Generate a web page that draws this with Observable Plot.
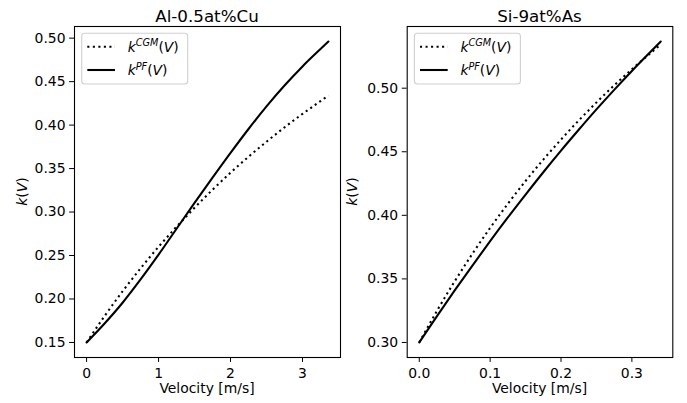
<!DOCTYPE html>
<html><head><meta charset="utf-8">
<script src="https://cdn.jsdelivr.net/npm/d3@7"></script>
<script src="https://cdn.jsdelivr.net/npm/@observablehq/plot@0.6"></script>
<style>
body{margin:0;background:#fff;}
#wrap{position:relative;width:687px;height:403px;font-family:"DejaVu Sans",sans-serif;background:#fff;}
#wrap svg{position:absolute;top:0;}
</style></head><body><div id="wrap"></div>
<script>
// ---- Data ----
const titles = ["Al-0.5at%Cu", "Si-9at%As"];
const xLabel = "Velocity [m/s]";

// Panel A: Al-0.5at%Cu
const alV   = [0, 0.25, 0.5, 0.75, 1.0, 1.25, 1.5, 1.75, 2.0, 2.25, 2.5, 2.75, 3.0, 3.25, 3.36];
const alCGM = [0.150, 0.1804, 0.2088, 0.2352, 0.2600, 0.2831, 0.3049, 0.3256, 0.3452, 0.3636, 0.3809, 0.3974, 0.4129, 0.4276, 0.4340];
const alPF  = [0.150, 0.1718, 0.1957, 0.2225, 0.2510, 0.2808, 0.3105, 0.3395, 0.3680, 0.3955, 0.4215, 0.4455, 0.4675, 0.4875, 0.4961];
const alXTicks = [0, 1, 2, 3];
const alYTicks = [0.15, 0.20, 0.25, 0.30, 0.35, 0.40, 0.45, 0.50];

// Panel B: Si-9at%As
const siV   = [0, 0.025, 0.05, 0.075, 0.1, 0.125, 0.15, 0.175, 0.2, 0.225, 0.25, 0.275, 0.3, 0.325, 0.3407];
const siCGM = [0.300, 0.3249, 0.3481, 0.3698, 0.3901, 0.4091, 0.4270, 0.4438, 0.4596, 0.4746, 0.4888, 0.5022, 0.5149, 0.5270, 0.5343];
const siPF  = [0.300, 0.3207, 0.3409, 0.3605, 0.3797, 0.3983, 0.4163, 0.4339, 0.4509, 0.4673, 0.4833, 0.4987, 0.5136, 0.5279, 0.5367];
const siXTicks = [0.0, 0.1, 0.2, 0.3];
const siYTicks = [0.30, 0.35, 0.40, 0.45, 0.50];

const FS = 13.9;      // 10pt @ 100dpi
const LW = 2.08;      // 1.5pt line
const DOT = "2.08,3.44";
const wrap = document.getElementById("wrap");

function padDomain(vals, f = 0.05) {
  const [a, b] = d3.extent(vals);
  const m = (b - a) * f;
  return [a - m, b + m];
}

function panel({V, cgm, pf, left, width, ml, mr, xticks, yticks, xfmt, yfmt}) {
  const rows = (ys) => V.map((v, i) => ({V: v, k: ys[i]}));
  const p = Plot.plot({
    width, height: 403,
    marginLeft: ml, marginRight: mr, marginTop: 26, marginBottom: 46,
    style: {fontFamily: "DejaVu Sans, sans-serif", fontSize: FS + "px", color: "#000", background: "transparent"},
    x: {domain: padDomain(V), label: null},
    y: {domain: padDomain(cgm.concat(pf)), label: null},
    marks: [
      Plot.line(rows(cgm), {x: "V", y: "k", curve: "monotone-x", stroke: "#000", strokeWidth: LW, strokeDasharray: DOT, strokeLinecap: "butt"}),
      Plot.line(rows(pf), {x: "V", y: "k", curve: "monotone-x", stroke: "#000", strokeWidth: LW}),
      Plot.frame({stroke: "#000", strokeWidth: 1.1}),
      Plot.axisX({ticks: xticks, tickFormat: d3.format(xfmt), tickSize: 4.9, tickPadding: 5.5, label: null, fontSize: FS}),
      Plot.axisY({ticks: yticks, tickFormat: d3.format(yfmt), tickSize: 4.9, tickPadding: 4.1, label: null, fontSize: FS})
    ]
  });
  p.style.left = left + "px";
  wrap.appendChild(p);
}

panel({V: alV, cgm: alCGM, pf: alPF, left: 0, width: 345, ml: 74, mr: 5, xticks: alXTicks, yticks: alYTicks, xfmt: "d", yfmt: ".2f"});
panel({V: siV, cgm: siCGM, pf: siPF, left: 345, width: 342, ml: 61.7, mr: 14.7, xticks: siXTicks, yticks: siYTicks, xfmt: ".1f", yfmt: ".2f"});

// ---- Overlay: titles, axis labels, legends ----
const ov = d3.select(wrap).append("svg")
  .attr("width", 687).attr("height", 403)
  .style("left", "0px").style("pointer-events", "none")
  .attr("font-family", "DejaVu Sans, sans-serif");

const centers = [207, 539.5];
const frameLeft = [74, 406.7];
titles.forEach((t, i) => {
  ov.append("text").attr("x", centers[i]).attr("y", 21.5).attr("text-anchor", "middle")
    .attr("font-size", 16.7).text(t);
  ov.append("text").attr("x", centers[i]).attr("y", 393.3).attr("text-anchor", "middle")
    .attr("font-size", FS).text(xLabel);
  const yl = ov.append("text")
    .attr("transform", `translate(${i === 0 ? 26.5 : 356.5},191.5) rotate(-90)`)
    .attr("text-anchor", "middle").attr("font-size", FS);
  yl.append("tspan").attr("font-style", "italic").text("k");
  yl.append("tspan").text("(");
  yl.append("tspan").attr("font-style", "italic").text("V");
  yl.append("tspan").text(")");

  // legend
  const bx = frameLeft[i] + 7.7;
  const g = ov.append("g");
  g.append("rect").attr("x", bx).attr("y", 33.3).attr("width", 106).attr("height", 50.7)
    .attr("rx", 3).attr("fill", "#fff").attr("fill-opacity", 0.8)
    .attr("stroke", "#d0d0d0").attr("stroke-width", 1.1);
  const entries = [{sup: "CGM", dash: DOT, y: 46.7}, {sup: "PF", dash: null, y: 70}];
  entries.forEach(e => {
    const ln = g.append("line").attr("x1", bx + 5.6).attr("x2", bx + 33.3)
      .attr("y1", e.y).attr("y2", e.y).attr("stroke", "#000").attr("stroke-width", LW);
    if (e.dash) ln.attr("stroke-dasharray", e.dash);
    const tx = g.append("text").attr("x", bx + 46).attr("y", e.y + 5).attr("font-size", FS);
    tx.append("tspan").attr("font-style", "italic").text("k");
    tx.append("tspan").attr("font-style", "italic").attr("font-size", 9.7).attr("dy", -5.5).text(e.sup);
    tx.append("tspan").attr("dy", 5.5).text("(");
    tx.append("tspan").attr("font-style", "italic").text("V");
    tx.append("tspan").text(")");
  });
});
</script>
</body></html>
